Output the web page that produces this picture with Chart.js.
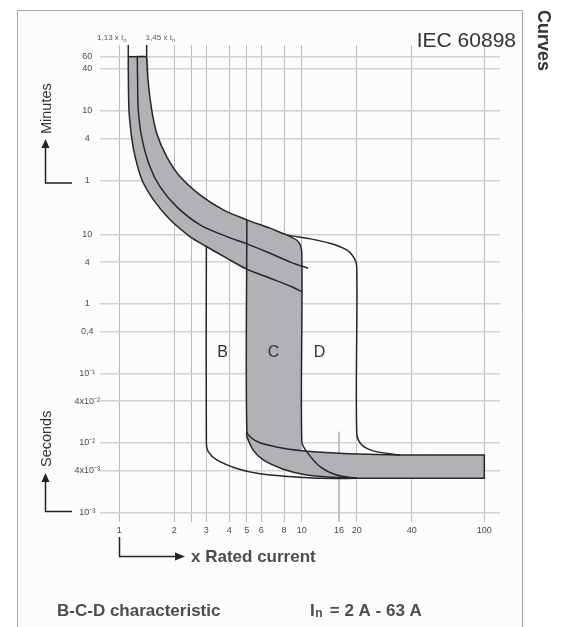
<!DOCTYPE html>
<html>
<head>
<meta charset="utf-8">
<title>IEC 60898 B-C-D curves</title>
<script src="https://cdn.jsdelivr.net/npm/chart.js@4.4.1/dist/chart.umd.min.js"></script>
<style>
  html, body { margin: 0; padding: 0; background: #fff; }
  #wrap { position: relative; width: 562px; height: 627px; }
</style>
</head>
<body>
<div id="wrap"><canvas id="curves" width="562" height="627"></canvas></div>
<script>
// x = multiple of rated current, y = tripping time in seconds
const xTicks = [1, 2, 2.5, 3, 4, 5, 6, 8, 10, 16, 20, 40, 100];
const xTickLabels = ['1', '2', '', '3', '4', '5', '6', '8', '10', '16', '20', '40', '100'];
const yTicks = [3600, 2400, 600, 240, 60, 10, 4, 1, 0.4, 0.1, 0.04, 0.01, 0.004, 0.001];
const yTickLabels = ['60', '40', '10', '4', '1', '10', '4', '1', '0,4', '10\u207B\u00B9', '4x10\u207B\u00B2', '10\u207B\u00B2', '4x10\u207B\u00B3', '10\u207B\u00B3'];

// thermal curve 1,13 x In (left edge of the band)
const lowerX = [1.12, 1.12, 1.12, 1.13, 1.17, 1.22, 1.33, 1.54, 1.9, 2.44, 3.0, 3.88, 5.0, 6.7, 8.8, 10];
const lowerY = [5300, 3600, 2460, 620, 242, 132, 61, 31.4, 16.2, 9.3, 6.7, 4.55, 3.16, 2.34, 1.77, 1.5];
// middle thermal curve
const midX = [1.255, 1.26, 1.27, 1.33, 1.47, 1.67, 2.06, 2.77, 3.88, 5.0, 6.7, 8.8, 10.85];
const midY = [3600, 1500, 618, 242, 94.5, 48.7, 25.1, 13.7, 9.3, 7.3, 5.36, 3.93, 3.26];
// thermal curve 1,45 x In, running on into the D limit at 20 x In
const upperX = [1.413, 1.413, 1.442, 1.505, 1.603, 1.818, 2.151, 2.768, 3.715, 5.0, 6.7, 8.3, 10.64, 14.27, 17.62, 19.15, 20, 20, 21.3, 24.6, 34.5];
const upperY = [5300, 3600, 1500, 618, 286, 131.6, 67.9, 37.0, 22.5, 16.2, 12.3, 9.84, 8.82, 7.47, 5.98, 4.79, 3.44, 0.0138, 0.0094, 0.0077, 0.0067];
// top of the band at 60 min
const capX = [1.12, 1.413];
const capY = [3600, 3600];
// B limit at 3 x In
const bX = [3.0, 3.0, 3.07, 3.42, 4.4, 5.9, 8.5, 13, 20];
const bY = [6.7, 0.0099, 0.0075, 0.0057, 0.0043, 0.0036, 0.0033, 0.0031, 0.0031];
// 5 x In line, upper and lower bend
const c5X = [5, 5, 5.32, 5.9, 7.92, 10, 14.27, 20, 34.5];
const c5Y = [16.2, 0.0145, 0.0117, 0.0101, 0.0084, 0.00775, 0.00725, 0.00695, 0.0067];
const c5LowX = [5, 5, 5.42, 6.15, 7.92, 10.64, 14.88, 20];
const c5LowY = [0.0145, 0.0125, 0.0079, 0.0057, 0.0042, 0.00346, 0.00321, 0.0031];
// 10 x In line
const c10X = [8.3, 9.57, 10, 10, 10.64, 12.58, 15.54, 20];
const c10Y = [9.84, 7.88, 5.36, 0.0104, 0.0075, 0.00456, 0.00346, 0.0031];
// instantaneous box up to 100 x In
const boxX = [34.5, 100, 100, 20];
const boxY = [0.0067, 0.0067, 0.0031, 0.0031];
// outline of the grey area
const bandX = [1.12, 1.413, 1.442, 1.505, 1.603, 1.818, 2.151, 2.768, 3.715, 5.0, 6.7, 8.3, 9.57, 10, 10, 10, 14.27, 20, 34.5, 98, 100, 100, 98, 20, 14.88, 10.64, 7.92, 6.15, 5.42, 5, 5, 5, 3.88, 3.0, 2.44, 1.9, 1.54, 1.33, 1.22, 1.17, 1.13, 1.12];
const bandY = [3600, 3600, 1500, 618, 286, 131.6, 67.9, 37.0, 22.5, 16.2, 12.3, 9.84, 7.88, 5.36, 0.0085, 0.00775, 0.00725, 0.00695, 0.0067, 0.0067, 0.0067, 0.0031, 0.0031, 0.0031, 0.00321, 0.00346, 0.0042, 0.0057, 0.0079, 0.0125, 2.9, 3.16, 4.55, 6.7, 9.3, 16.2, 31.4, 61, 132, 242, 620, 2460];
// short 16 x In grid line near the bottom
const grid16X = [16, 16];
const grid16Y = [0.0145, 0.00073];

const FONT = '"Liberation Sans", Arial, Helvetica, sans-serif';

function pts(xs, ys) {
    return xs.map((x, i) => ({ x: x, y: ys[i] }));
}

function curve(xs, ys, extra) {
    return Object.assign({
        data: pts(xs, ys),
        borderColor: '#262626',
        borderWidth: 1.5,
        pointRadius: 0,
        fill: false,
        tension: 0.3,
        order: 1
    }, extra || {});
}

function arrowUp(c, x, tip) {
    c.beginPath();
    c.moveTo(x, tip);
    c.lineTo(x - 4, tip + 9);
    c.lineTo(x + 4, tip + 9);
    c.closePath();
    c.fill();
}

const decorPlugin = {
    id: 'decor',
    beforeDraw(chart) {
        const c = chart.ctx;
        c.save();
        c.fillStyle = '#ffffff';
        c.fillRect(0, 0, chart.width, chart.height);
        c.fillStyle = '#fcfcfc';
        c.fillRect(18, 11, 504, 616);
        // frame
        c.strokeStyle = '#a8a8a8';
        c.lineWidth = 1;
        c.beginPath();
        c.moveTo(17.5, 627);
        c.lineTo(17.5, 10.5);
        c.lineTo(522.5, 10.5);
        c.lineTo(522.5, 627);
        c.stroke();
        c.strokeStyle = 'rgba(0,0,0,0.06)';
        c.beginPath();
        c.moveTo(524.5, 12);
        c.lineTo(524.5, 627);
        c.stroke();
        c.restore();
    },
    afterDraw(chart) {
        const c = chart.ctx;
        const xs = chart.scales.x;
        const ys = chart.scales.y;
        c.save();

        c.fillStyle = '#333';
        c.font = '21px ' + FONT;
        c.textAlign = 'right';
        c.textBaseline = 'alphabetic';
        c.fillText('IEC 60898', 516, 47);

        // side tab
        c.save();
        c.translate(538, 10);
        c.rotate(Math.PI / 2);
        c.font = 'bold 18px ' + FONT;
        c.textAlign = 'left';
        c.fillText('Curves', 0, 0);
        c.restore();

        // curve names
        c.font = '16px ' + FONT;
        c.textAlign = 'center';
        c.textBaseline = 'middle';
        c.fillText('B', xs.getPixelForValue(3.68), ys.getPixelForValue(0.2));
        c.fillText('C', xs.getPixelForValue(7.0), ys.getPixelForValue(0.2));
        c.fillText('D', xs.getPixelForValue(12.5), ys.getPixelForValue(0.2));

        // 1,13 / 1,45 x In marks
        c.fillStyle = '#555';
        c.textBaseline = 'alphabetic';
        const px113 = xs.getPixelForValue(1.12);
        const px145 = xs.getPixelForValue(1.413);
        c.font = '8px ' + FONT;
        c.textAlign = 'right';
        c.fillText('1,13 x I', px113 - 5, 40);
        c.font = '6px ' + FONT;
        c.textAlign = 'left';
        c.fillText('n', px113 - 5, 42);
        c.font = '8px ' + FONT;
        c.fillText('1,45 x I', px145 - 1, 40);
        const w145 = c.measureText('1,45 x I').width;
        c.font = '6px ' + FONT;
        c.fillText('n', px145 - 1 + w145, 42);

        // axis captions with arrows
        c.fillStyle = '#222';
        c.strokeStyle = '#222';
        c.lineWidth = 1.5;
        c.beginPath();
        c.moveTo(72, 183);
        c.lineTo(45.5, 183);
        c.lineTo(45.5, 146);
        c.moveTo(72, 511.5);
        c.lineTo(45.5, 511.5);
        c.lineTo(45.5, 480);
        c.moveTo(119.5, 537);
        c.lineTo(119.5, 556.5);
        c.lineTo(176, 556.5);
        c.stroke();
        arrowUp(c, 45.5, 139);
        arrowUp(c, 45.5, 473);
        c.beginPath();
        c.moveTo(185, 556.5);
        c.lineTo(175, 552.5);
        c.lineTo(175, 560.5);
        c.closePath();
        c.fill();

        c.fillStyle = '#333';
        c.font = '14.5px ' + FONT;
        c.textAlign = 'left';
        c.textBaseline = 'alphabetic';
        c.save();
        c.translate(51, 134);
        c.rotate(-Math.PI / 2);
        c.fillText('Minutes', 0, 0);
        c.restore();
        c.save();
        c.translate(51, 467);
        c.rotate(-Math.PI / 2);
        c.fillText('Seconds', 0, 0);
        c.restore();

        c.fillStyle = '#4d4d4d';
        c.font = 'bold 17px ' + FONT;
        c.textBaseline = 'middle';
        c.fillText('x Rated current', 191, 557);
        c.fillText('B-C-D characteristic', 57, 611);

        // In = 2 A - 63 A
        c.font = 'bold 17px ' + FONT;
        c.fillText('I', 310, 611);
        let cx = 310 + c.measureText('I').width;
        c.font = 'bold 12px ' + FONT;
        c.fillText('n', cx + 0.5, 614);
        cx += c.measureText('n').width + 3;
        c.font = 'bold 17px ' + FONT;
        c.fillText(' = 2 A - 63 A', cx, 611);

        c.restore();
    }
};

new Chart(document.getElementById('curves'), {
    type: 'line',
    data: {
        datasets: [
            curve(grid16X, grid16Y, { borderColor: '#b9bcc2', borderWidth: 1, tension: 0, order: 30 }),
            curve(bandX, bandY, { borderWidth: 0, borderColor: 'rgba(0,0,0,0)', backgroundColor: '#b1b2b5', fill: 'shape', order: 20 }),
            curve(lowerX, lowerY),
            curve(midX, midY),
            curve(upperX, upperY),
            curve(capX, capY, { tension: 0 }),
            curve(bX, bY),
            curve(c5X, c5Y),
            curve(c5LowX, c5LowY),
            curve(c10X, c10Y),
            curve(boxX, boxY, { tension: 0 })
        ]
    },
    options: {
        responsive: false,
        animation: false,
        events: [],
        layout: { padding: { top: 45, right: 62, left: 0, bottom: 0 } },
        plugins: {
            legend: { display: false },
            tooltip: { enabled: false }
        },
        scales: {
            x: {
                type: 'logarithmic',
                min: 0.784,
                max: 121.9,
                afterBuildTicks: s => { s.ticks = xTicks.map(v => ({ value: v })); },
                afterFit: s => { s.height = 105; },
                border: { display: false },
                grid: {
                    color: ctx => (ctx.tick && ctx.tick.value === 16) ? 'rgba(0,0,0,0)' : '#b9bcc2',
                    lineWidth: 1,
                    drawTicks: false
                },
                ticks: {
                    autoSkip: false,
                    maxRotation: 0,
                    padding: 3,
                    color: '#4a4a4a',
                    font: { family: FONT, size: 9 },
                    callback: (v, i) => xTickLabels[i]
                }
            },
            y: {
                type: 'logarithmic',
                min: 0.00073,
                max: 5300,
                afterBuildTicks: s => { s.ticks = yTicks.map(v => ({ value: v })); },
                afterFit: s => { s.width = 100; },
                border: { display: false },
                grid: {
                    color: '#d8cfcf',
                    lineWidth: 1.5,
                    drawTicks: false
                },
                ticks: {
                    autoSkip: false,
                    crossAlign: 'center',
                    padding: 0,
                    color: '#4a4a4a',
                    font: { family: FONT, size: 9 },
                    callback: (v, i) => yTickLabels[i]
                }
            }
        }
    },
    plugins: [decorPlugin]
});
</script>
</body>
</html>
